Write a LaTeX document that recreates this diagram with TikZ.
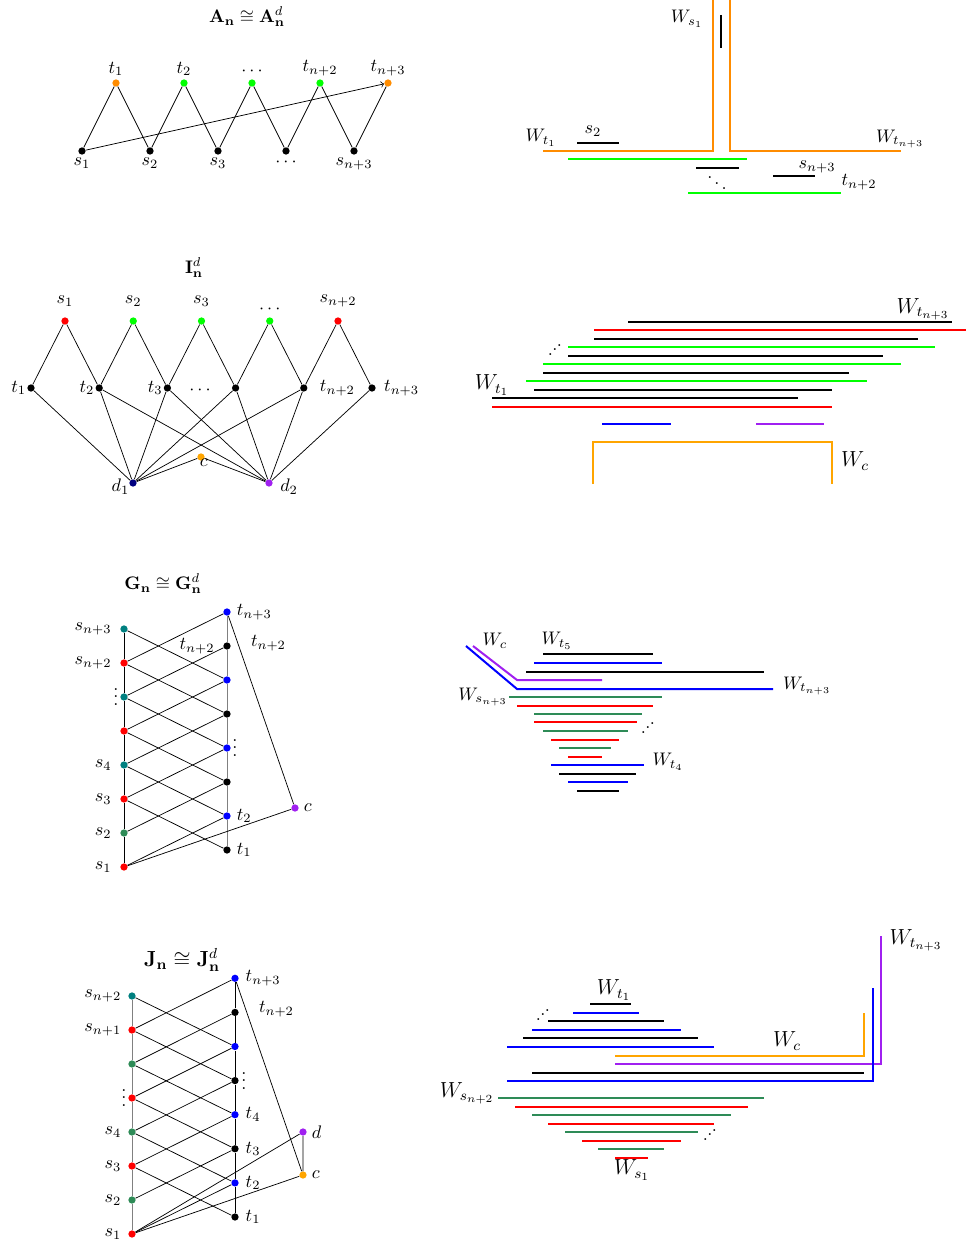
\documentclass[tikz,border=0pt]{standalone}
\usetikzlibrary{positioning}
\definecolor{darkorange}{RGB}{255,140,0}
\definecolor{lightorange}{RGB}{255,165,0}
\definecolor{seagreen}{RGB}{46,139,87}
\definecolor{vpurple}{RGB}{160,32,240}
\definecolor{navyblue}{RGB}{0,0,128}
\newcommand{\updots}{\mathinner{\raisebox{0pt}{.}\kern-0.3pt\raisebox{2.3pt}{.}\kern-0.3pt\raisebox{4.6pt}{.}}}
\tikzset{
  vtx/.style={circle,fill=#1,inner sep=0pt,minimum size=4pt},
  vtx/.default=black,
  lab/.style={inner sep=1.5pt},
  link/.style={thin},
  ival/.style={line width=1.1pt,draw=#1},
  ival/.default=black,
  wlab/.style={font=\large}
}
\begin{document}
\begin{tikzpicture}[x=0.55pt,y=-0.55pt]
    \useasboundingbox (0,0) rectangle (966,1241);
    % ---------- A_n ----------
    \node (Atitle) at (247,17) {$\mathbf{A}_{\mathbf{n}}\cong\mathbf{A}^{d}_{\mathbf{n}}$};
    \foreach \i/\c in {1/darkorange,2/green,3/green,4/green,5/darkorange}
        \node[vtx=\c] (At\i) at ({116+68*(\i-1)},83) {};
    \foreach \i in {1,...,5}
        \node[vtx] (As\i) at ({82+68*(\i-1)},151) {};
    \foreach \i/\l in {1/t_1,2/t_2,3/\cdots,4/t_{n+2},5/t_{n+3}}
        \node[lab,above=0pt of At\i] (Atl\i) {$\l$};
    \foreach \i/\l in {1/s_1,2/s_2,3/s_3,4/\cdots,5/s_{n+3}}
        \node[lab,below=0pt of As\i] (Asl\i) {$\l$};
    % zigzag and the long arc
    \foreach \i in {1,...,5} \draw[link] (As\i) -- (At\i);
    \foreach \i [count=\j from 2] in {1,...,4} \draw[link] (At\i) -- (As\j);
    \draw[link,->] (As1) -- (At5);

    % ---------- intervals of A_n ----------
    \draw[ival=darkorange] (543,151) -- (713,151) -- (713,0);
    \draw[ival=darkorange] (730,0) -- (730,151) -- (901,151);
    \draw[ival] (721,15) -- (721,48);
    \draw[ival] (577,143) -- (619,143);
    \draw[ival=green] (568,159) -- (747,159);
    \draw[ival] (696,168) -- (739,168);
    \draw[ival] (773,176) -- (815,176);
    \draw[ival=green] (688,193) -- (841,193);
    \node (AWs1) at (687,19) {$W_{s_1}$};
    \node (AWt1) at (541,138) {$W_{t_1}$};
    \node (AWtn3) at (900,139) {$W_{t_{n+3}}$};
    \node (As2l) at (593,131) {$s_2$};
    \node (Asn3l) at (817,167) {$s_{n+3}$};
    \node (Atn2l) at (859,182) {$t_{n+2}$};
    \node (Addots) at (717,178) {$\ddots$};

    % ---------- I_n^d ----------
    \node (Ititle) at (194,268) {$\mathbf{I}^{d}_{\mathbf{n}}$};
    \foreach \i/\c in {1/red,2/green,3/green,4/green,5/red}
        \node[vtx=\c] (Is\i) at ({65+68.25*(\i-1)},321) {};
    \foreach \i in {1,...,6}
        \node[vtx] (It\i) at ({31+68.2*(\i-1)},388) {};
    \node[vtx=navyblue] (Id1) at (133,483) {};
    \node[vtx=vpurple] (Id2) at (269,483) {};
    \node[vtx=lightorange] (Ic) at (201,457) {};
    % labels
    \foreach \i/\l in {1/s_1,2/s_2,3/s_3,5/s_{n+2}}
        \node[lab,above=4pt of Is\i] (Isl\i) {$\l$};
    \node[lab,above=0pt of Is4] (Isl4) {$\cdots$};
    \foreach \i/\l in {1/t_1,2/t_2,3/t_3}
        \node[lab,left=-1.2pt of It\i] (Itl\i) {$\l$};
    \node[lab,right=5pt of It5] (Itl5) {$t_{n+2}$};
    \node[lab,right=2.8pt of It6] (Itl6) {$t_{n+3}$};
    \node (Itdots) at (200,390) {$\cdots$};
    \node[lab,left=-1.8pt of Id1,yshift=-2.2pt] (Id1l) {$d_1$};
    \node[lab,right=2.3pt of Id2,yshift=-2.2pt] (Id2l) {$d_2$};
    \node[lab,xshift=1.6pt,yshift=-3.3pt] (Icl) at (Ic) {$c$};
    % edges
    \foreach \i [count=\j from 2] in {1,...,5} {
        \draw[link] (Is\i) -- (It\i);
        \draw[link] (Is\i) -- (It\j);
    }
    \foreach \i in {1,...,5} \draw[link] (It\i) -- (Id1);
    \foreach \i in {2,...,6} \draw[link] (It\i) -- (Id2);
    \draw[link] (Id1) -- (Ic) -- (Id2);

    % ---------- intervals of I_n^d ----------
    \foreach \y/\a/\b/\c in {322/628/952/black, 330/594/966/red, 339/594/918/black,
            347/568/935/green, 356/568/883/black, 364/543/901/green, 373/543/849/black,
            381/526/867/green, 390/534/832/black, 398/492/798/black, 407/492/832/red,
            424/602/671/blue, 424/756/824/vpurple}
        \draw[ival=\c] (\a,\y) -- (\b,\y);
    \draw[ival=lightorange] (593,484) -- (593,442) -- (832,442) -- (832,484);
    \node[wlab] (IWtn3) at (923,309) {$W_{t_{n+3}}$};
    \node[wlab] (IWt1) at (492,385) {$W_{t_1}$};
    \node[wlab] (IWc) at (855,461) {$W_c$};
    \node (Iiddots) at (555,350) {$\updots$};

    % ---------- G_n ----------
    \node (Gtitle) at (163,584) {$\mathbf{G}_{\mathbf{n}}\cong\mathbf{G}^{d}_{\mathbf{n}}$};
    \foreach \i/\c in {1/red,2/seagreen,3/red,4/teal,5/red,6/teal,7/red,8/teal}
        \node[vtx=\c] (GL\i) at (124,{867-34*(\i-1)}) {};
    \foreach \j/\c in {1/black,2/blue,3/black,4/blue,5/black,6/blue,7/black,8/blue}
        \node[vtx=\c] (GR\j) at (227,{850-34*(\j-1)}) {};
    \node[vtx=vpurple] (Gc) at (295,808) {};
    % labels
    \foreach \i/\l in {1/s_1,2/s_2,3/s_3,4/s_4,7/s_{n+2},8/s_{n+3}}
        \node[lab,left=3pt of GL\i] (GLl\i) {$\l$};
    \foreach \j/\l in {1/t_1,2/t_2,8/t_{n+3}}
        \node[lab,right=1.5pt of GR\j] (GRl\j) {$\l$};
    \node[lab,left=3pt of GR7] (GRl7a) {$t_{n+2}$};
    \node[lab,right=9.3pt of GR7,yshift=1.6pt] (GRl7b) {$t_{n+2}$};
    \node[lab,right=1pt of Gc] (Gcl) {$c$};
    \node (GLdots) at (116,691.5) {$\vdots$};
    \node (GRdots) at (235,742.5) {$\vdots$};
    % edges
    \foreach \i [count=\j from 2] in {1,...,7} {
        \draw[link] (GL\i) -- (GL\j);
        \draw[link,gray] (GR\i) -- (GR\j);
        \draw[link] (GL\i) -- (GR\j);
    }
    \foreach \i [count=\j from 1] in {3,...,8} \draw[link] (GL\i) -- (GR\j);
    \draw[link] (GL1) -- (Gc) -- (GR8);

    % ---------- intervals of G_n ----------
    \draw[ival=vpurple] (473,646) -- (517,680) -- (602,680);
    \draw[ival=blue] (466,646) -- (517,689) -- (773,689);
    \foreach \y/\a/\b/\c in {654/543/653/black, 663/534/662/blue, 672/526/764/black,
            697/509/662/seagreen, 706/517/653/red, 714/534/642/seagreen, 722/534/637/red,
            731/543/628/seagreen, 740/551/619/red, 748/559/611/seagreen, 757/568/602/red,
            765/551/644/blue, 774/559/636/black, 782/568/628/blue, 791/577/619/black}
        \draw[ival=\c] (\a,\y) -- (\b,\y);
    \node (GWc) at (495,641) {$W_c$};
    \node (GWt5) at (557,641) {$W_{t_5}$};
    \node (GWtn3) at (807,686) {$W_{t_{n+3}}$};
    \node (GWsn3) at (483,697) {$W_{s_{n+3}}$};
    \node (GWt4) at (668,762) {$W_{t_4}$};
    \node (Giddots) at (648,728) {$\updots$};

    % ---------- J_n ----------
    \node[font=\large] (Jtitle) at (182,960) {$\mathbf{J}_{\mathbf{n}}\cong\mathbf{J}^{d}_{\mathbf{n}}$};
    \foreach \i/\c in {1/red,2/seagreen,3/red,4/seagreen,5/red,6/seagreen,7/red,8/teal}
        \node[vtx=\c] (JL\i) at (132,{1234-34*(\i-1)}) {};
    \foreach \j/\c in {1/black,2/blue,3/black,4/blue,5/black,6/blue,7/black,8/blue}
        \node[vtx=\c] (JR\j) at (235,{1217-34.1*(\j-1)}) {};
    \node[vtx=vpurple] (Jd) at (303,1132) {};
    \node[vtx=lightorange] (Jc) at (303,1175) {};
    % labels
    \foreach \i/\l in {1/s_1,2/s_2,3/s_3,4/s_4,7/s_{n+1},8/s_{n+2}}
        \node[lab,left=2pt of JL\i] (JLl\i) {$\l$};
    \foreach \j/\l in {1/t_1,2/t_2,3/t_3,4/t_4,8/t_{n+3}}
        \node[lab,right=2pt of JR\j] (JRl\j) {$\l$};
    \node[lab,right=9.3pt of JR7,yshift=1.6pt] (JRl7) {$t_{n+2}$};
    \node[lab,right=1pt of Jd] (Jdl) {$d$};
    \node[lab,right=1pt of Jc] (Jcl) {$c$};
    \node (JLdots) at (124,1092.5) {$\vdots$};
    \node (JRdots) at (244,1075.5) {$\vdots$};
    % edges
    \foreach \i [count=\j from 2] in {1,...,7} {
        \draw[link,gray] (JL\i) -- (JL\j);
        \draw[link] (JR\i) -- (JR\j);
        \draw[link] (JL\i) -- (JR\j);
    }
    \foreach \i [count=\j from 1] in {3,...,8} \draw[link] (JL\i) -- (JR\j);
    \draw[link] (JL1) -- (Jd) -- (Jc);
    \draw[link] (JL1) -- (Jc) -- (JR8);

    % ---------- intervals of J_n ----------
    \draw[ival=vpurple] (881,936) -- (881,1064) -- (615,1064);
    \draw[ival=blue] (873,988) -- (873,1081) -- (507,1081);
    \draw[ival=lightorange] (864,1013) -- (864,1056) -- (615,1056);
    \foreach \y/\a/\b/\c in {1073/532/864/black, 1004/590/631/black, 1013/573/639/blue,
            1021/548/664/black, 1030/532/681/blue, 1038/523/698/black, 1047/507/714/blue,
            1098/498/764/seagreen, 1107/515/748/red, 1115/532/731/seagreen, 1124/548/714/red,
            1132/565/698/seagreen, 1141/582/681/red, 1149/598/664/seagreen, 1158/615/648/red}
        \draw[ival=\c] (\a,\y) -- (\b,\y);
    \node[wlab] (JWt1) at (614,990) {$W_{t_1}$};
    \node[wlab] (JWc) at (787,1041) {$W_c$};
    \node[wlab] (JWtn3) at (916,940) {$W_{t_{n+3}}$};
    \node[wlab] (JWsn2) at (467,1093) {$W_{s_{n+2}}$};
    \node[wlab] (JWs1) at (632,1170) {$W_{s_1}$};
    \node (Jiddotsa) at (543,1015) {$\updots$};
    \node (Jiddotsb) at (710,1135) {$\updots$};
\end{tikzpicture}
\end{document}
